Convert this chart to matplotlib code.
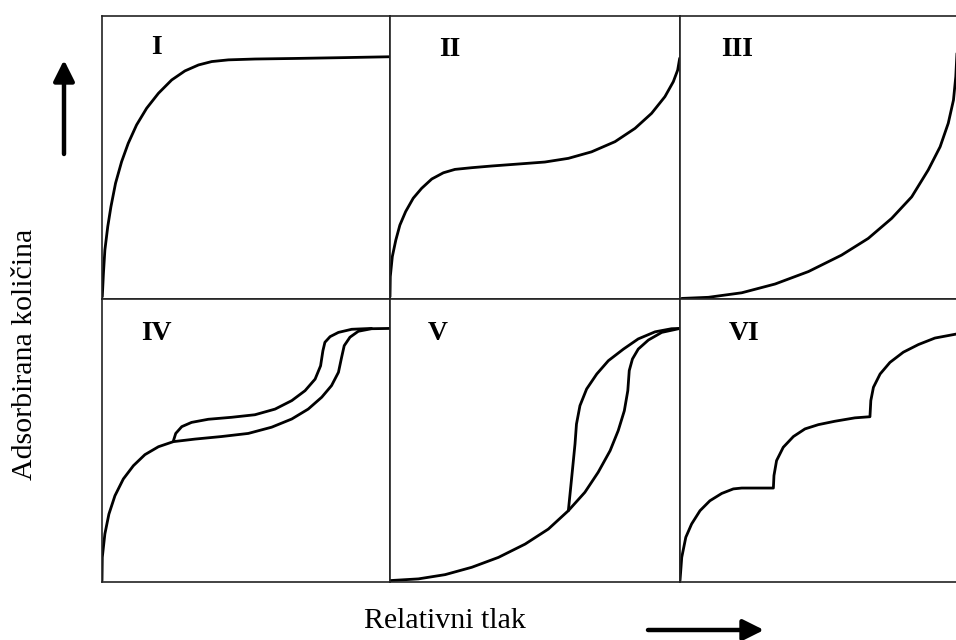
"""Tipovi adsorpcijskih izotermi (I-VI) - šest panela u mreži 2x3."""

import matplotlib

matplotlib.use("Agg")
import matplotlib.pyplot as plt  # noqa: E402
from matplotlib.patches import FancyArrowPatch  # noqa: E402

plt.rcParams["font.family"] = ["Liberation Serif", "DejaVu Serif"]

# oznake panela
panel_labels = ["I", "II", "III", "IV", "V", "VI"]

# krivulje u relativnim jedinicama panela (0-1), očitano sa slike
iso_I_x = [0.001, 0.005, 0.010, 0.020, 0.031, 0.047, 0.068, 0.091, 0.120, 0.155,
           0.196, 0.242, 0.288, 0.335, 0.381, 0.439, 0.531, 0.670, 0.844, 1.0]
iso_I_y = [0.008, 0.091, 0.173, 0.256, 0.326, 0.409, 0.485, 0.550, 0.615, 0.674,
           0.727, 0.774, 0.806, 0.827, 0.839, 0.845, 0.848, 0.850, 0.853, 0.856]

iso_II_x = [0.0, 0.001, 0.008, 0.020, 0.034, 0.054, 0.080, 0.109, 0.144, 0.184,
            0.224, 0.282, 0.351, 0.443, 0.534, 0.615, 0.695, 0.776, 0.845, 0.902,
            0.948, 0.977, 0.992, 0.999]
iso_II_y = [0.008, 0.079, 0.150, 0.208, 0.261, 0.309, 0.356, 0.391, 0.424, 0.446,
            0.458, 0.464, 0.470, 0.477, 0.484, 0.497, 0.520, 0.556, 0.603, 0.656,
            0.715, 0.768, 0.809, 0.851]

iso_III_x = [0.006, 0.098, 0.213, 0.328, 0.443, 0.557, 0.649, 0.730, 0.799, 0.856,
             0.897, 0.925, 0.943, 0.951, 0.955]
iso_III_y = [0.002, 0.006, 0.022, 0.053, 0.097, 0.155, 0.214, 0.285, 0.361, 0.456,
             0.538, 0.621, 0.703, 0.786, 0.868]

iso_IV_ads_x = [0.0, 0.001, 0.010, 0.024, 0.045, 0.074, 0.109, 0.149, 0.196, 0.248,
                0.323, 0.415, 0.508, 0.589, 0.659, 0.716, 0.763, 0.797, 0.821, 0.832,
                0.841, 0.861, 0.890, 0.936, 1.0]
iso_IV_ads_y = [0.005, 0.087, 0.170, 0.240, 0.305, 0.364, 0.411, 0.450, 0.478, 0.496,
                0.505, 0.514, 0.525, 0.547, 0.576, 0.611, 0.653, 0.694, 0.741, 0.794,
                0.835, 0.865, 0.886, 0.895, 0.896]
iso_IV_des_x = [0.248, 0.256, 0.277, 0.311, 0.369, 0.450, 0.531, 0.601, 0.659, 0.705,
                0.740, 0.759, 0.767, 0.774, 0.792, 0.821, 0.867, 0.936]
iso_IV_des_y = [0.499, 0.525, 0.549, 0.564, 0.575, 0.582, 0.591, 0.611, 0.641, 0.676,
                0.717, 0.764, 0.817, 0.847, 0.867, 0.882, 0.893, 0.896]

iso_V_ads_x = [0.0, 0.098, 0.190, 0.282, 0.374, 0.466, 0.546, 0.615, 0.672, 0.718,
               0.759, 0.787, 0.808, 0.820, 0.825, 0.836, 0.856, 0.891, 0.937, 1.0]
iso_V_ads_y = [0.005, 0.011, 0.026, 0.052, 0.087, 0.134, 0.187, 0.252, 0.317, 0.388,
               0.464, 0.535, 0.605, 0.676, 0.747, 0.788, 0.823, 0.855, 0.882, 0.896]
iso_V_des_x = [0.615, 0.622, 0.630, 0.638, 0.643, 0.655, 0.678, 0.713, 0.753, 0.805,
               0.856, 0.914, 0.971, 1.0]
iso_V_des_y = [0.252, 0.323, 0.405, 0.488, 0.558, 0.623, 0.682, 0.735, 0.782, 0.823,
               0.859, 0.884, 0.895, 0.896]

iso_VI_x = [0.0, 0.006, 0.020, 0.040, 0.069, 0.103, 0.144, 0.184, 0.213, 0.322,
            0.324, 0.333, 0.356, 0.391, 0.431, 0.477, 0.534, 0.603, 0.655, 0.658,
            0.667, 0.690, 0.724, 0.770, 0.822, 0.879, 0.952, 1.0]
iso_VI_y = [0.005, 0.087, 0.158, 0.205, 0.252, 0.287, 0.313, 0.329, 0.332, 0.332,
            0.376, 0.429, 0.476, 0.514, 0.541, 0.556, 0.568, 0.580, 0.584, 0.641,
            0.688, 0.735, 0.776, 0.812, 0.839, 0.862, 0.876, 0.880]

curves = [
    [(iso_I_x, iso_I_y)],
    [(iso_II_x, iso_II_y)],
    [(iso_III_x, iso_III_y)],
    [(iso_IV_ads_x, iso_IV_ads_y), (iso_IV_des_x, iso_IV_des_y)],
    [(iso_V_ads_x, iso_V_ads_y), (iso_V_des_x, iso_V_des_y)],
    [(iso_VI_x, iso_VI_y)],
]

W, H = 956, 640
col_edges = [102, 390, 680, 970]   # desni stupac je odrezan rubom slike
row_edges = [16, 299, 582]
label_xy = [(156, 48), (450, 49), (737, 49), (156, 334), (438, 334), (744, 334)]

fig = plt.figure(figsize=(W / 100, H / 100), dpi=100)

for i, lab in enumerate(panel_labels):
    r, c = divmod(i, 3)
    x0, x1 = col_edges[c], col_edges[c + 1]
    y0, y1 = row_edges[r], row_edges[r + 1]
    ax = fig.add_axes([x0 / W, 1 - y1 / H, (x1 - x0) / W, (y1 - y0) / H])
    ax.set_xlim(0, 1)
    ax.set_ylim(0, 1)
    ax.set_xticks([])
    ax.set_yticks([])
    for sp in ax.spines.values():
        sp.set_linewidth(1.2)
        sp.set_color("#222222")
    for xs, ys in curves[i]:
        ax.plot(xs, ys, color="black", lw=2.0, solid_joinstyle="round",
                solid_capstyle="round")
    lx, ly = label_xy[i]
    fig.text(lx / W, 1 - ly / H, lab, fontsize=20, fontweight="bold",
             ha="center", va="center")

fig.text(25 / W, 1 - 354 / H, "Adsorbirana količina", rotation=90,
         ha="center", va="center", fontsize=21.5)
fig.text(445 / W, 1 - 621 / H, "Relativni tlak", ha="center", va="center",
         fontsize=21.5)

arrow_kw = dict(transform=fig.transFigure, color="black", lw=3.2,
                arrowstyle="-|>,head_width=0.35,head_length=0.7",
                mutation_scale=18, shrinkA=0, shrinkB=0)
fig.add_artist(FancyArrowPatch((64 / W, 1 - 154 / H), (64 / W, 1 - 60 / H), **arrow_kw))
fig.add_artist(FancyArrowPatch((648 / W, 1 - 630 / H), (764 / W, 1 - 630 / H), **arrow_kw))

fig.savefig("out.png", dpi=100)
